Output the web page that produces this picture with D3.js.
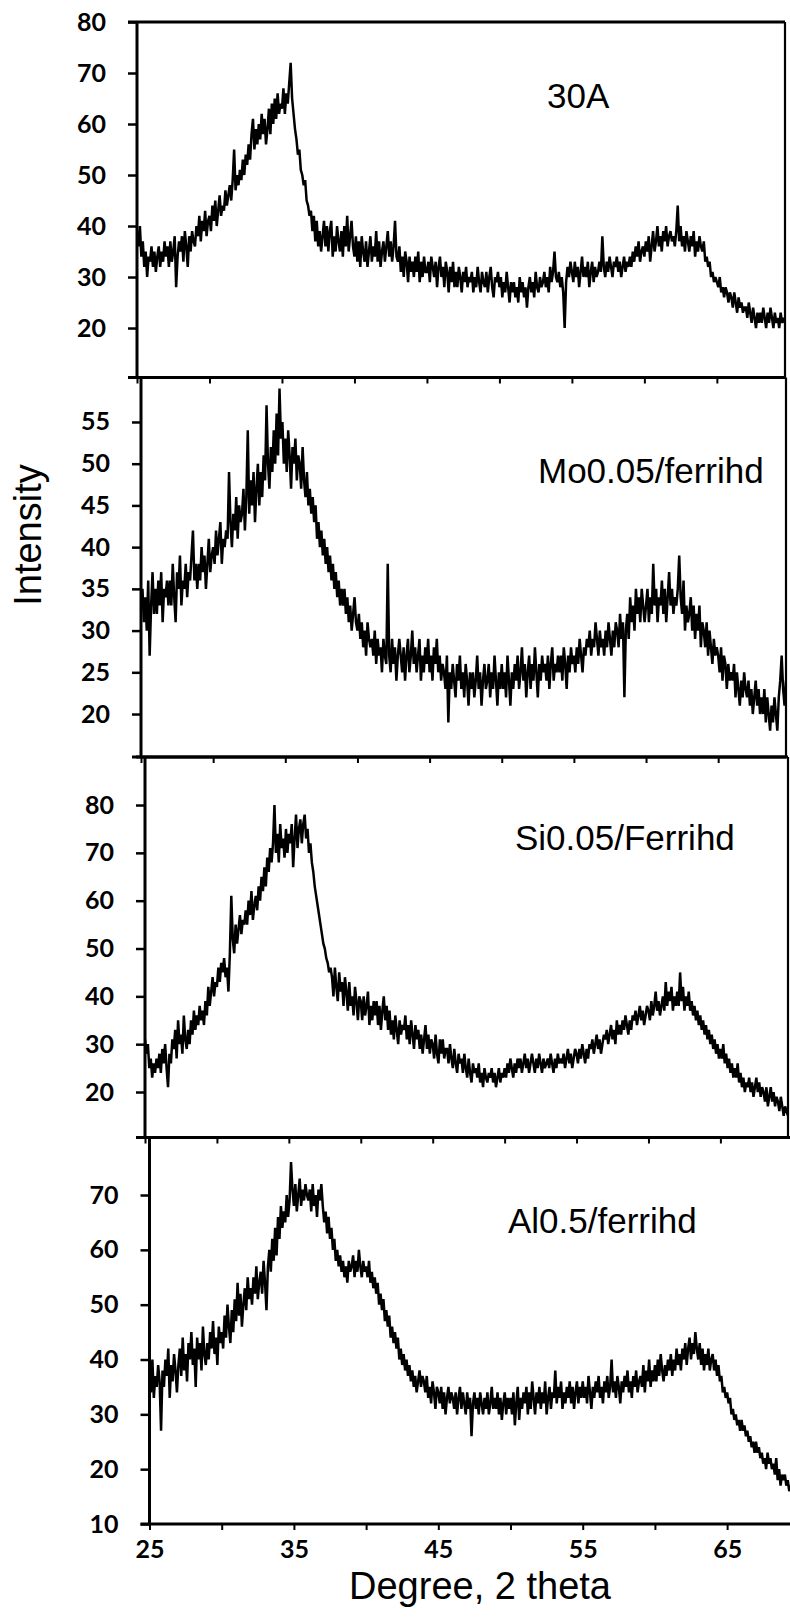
<!DOCTYPE html>
<html><head><meta charset="utf-8">
<script src="https://cdn.jsdelivr.net/npm/d3@7"></script>
<style>html,body{margin:0;padding:0;background:#fff;}svg{display:block;}</style>
</head><body>
<svg id="chart" width="790" height="1622"></svg>
<script>
// ---------- data (2-theta from 25.0 in 0.1 degree steps) ----------
const degStart = 25.0;
const degStep = 0.1;
const panelLabels = ["30A", "Mo0.05/ferrihd", "Si0.05/Ferrihd", "Al0.5/ferrihd"];

const series30A = [
39,36,40,34,37,32,35,30,34,33,
36,32,35,31,34,36,32,35,33,37,
34,36,32,37,33,35,38,28,34,37,
35,38,33,39,36,32,38,35,39,37,
36,40,38,42,37,41,39,43,38,41,
42,39,44,41,45,40,43,46,42,44,
43,47,44,46,48,45,49,55,47,50,
48,51,49,53,50,54,52,56,53,58,
61,55,59,56,60,57,62,58,61,56,
59,63,58,64,60,65,61,66,62,64,
63,67,62,66,64,68,72,65,62,59,
57,54,55,51,50,48,49,45,44,42,
43,39,42,37,41,36,39,35,38,41,
36,40,35,39,41,34,38,35,40,37,
35,39,34,40,36,42,35,38,41,36,
34,38,33,37,32,38,35,33,37,32,
35,38,33,36,34,39,33,37,32,35,
37,33,36,39,34,37,33,36,41,34,
33,36,31,34,30,35,33,29,34,31,
33,30,34,31,35,29,33,30,34,31,
31,33,29,34,32,30,33,28,32,34,
30,32,28,33,31,27,32,29,33,28,
31,28,32,30,27,31,29,32,28,30,
29,31,27,30,28,32,29,27,31,29,
28,31,27,30,32,28,26,30,29,31,
28,30,26,29,27,31,28,25,29,27,
29,26,28,25,30,27,29,26,28,24,
28,30,27,29,26,31,28,27,30,28,
29,31,28,30,27,32,29,31,35,30,
29,31,28,30,27,20,29,32,30,33,
31,29,33,30,32,28,31,34,30,32,
30,33,28,31,33,29,32,30,31,33,
31,38,32,30,33,31,34,32,30,33,
32,34,31,33,30,32,34,31,33,32,
34,32,35,33,36,34,37,33,35,36,
34,37,35,38,33,36,39,35,37,40,
36,38,35,39,37,40,36,38,39,37,
38,36,39,44,37,40,36,38,35,39,
37,35,38,36,39,34,37,35,38,36,
35,37,33,34,32,33,30,31,29,30,
29,28,30,27,28,26,28,27,25,27,
26,24,27,25,23,26,24,25,23,24,
24,22,25,23,21,24,22,20,23,21,
23,21,24,22,20,23,21,24,22,20,
23,21,22,20,23,21,22,21
];

const seriesMo = [
33,35,31,34,30,36,27,33,37,32,
35,32,36,33,37,31,35,34,36,33,
36,33,38,34,31,37,35,39,33,36,
35,38,34,37,36,39,42,36,38,35,
38,36,40,37,39,35,38,41,37,39,
40,38,42,39,41,43,38,41,40,42,
41,49,43,40,44,42,46,41,45,43,
44,47,42,46,54,44,48,45,49,43,
47,50,45,49,46,51,48,57,50,47,
52,49,54,50,56,51,59,53,55,50,
53,49,54,51,47,52,50,53,48,51,
50,47,52,48,46,49,45,47,44,46,
43,45,41,43,40,42,39,41,38,40,
37,39,36,38,35,37,34,36,33,35,
33,35,32,34,31,33,30,32,34,31,
30,32,29,31,28,30,27,31,29,28,
29,27,30,26,29,27,28,25,29,27,
26,38,27,25,29,26,28,24,27,29,
27,25,28,24,27,29,25,27,30,26,
28,25,27,29,24,27,25,28,26,29,
25,27,24,28,26,29,25,27,24,26,
25,23,27,19,25,23,26,24,22,26,
24,27,23,25,22,26,24,21,25,23,
25,22,24,27,23,25,21,24,26,23,
24,26,22,25,23,27,24,21,25,23,
26,23,25,22,27,24,21,25,23,26,
24,27,23,25,28,24,26,22,25,27,
23,26,24,28,25,22,26,24,27,25,
26,24,27,23,26,28,24,26,25,27,
25,27,24,28,26,23,27,25,28,26,
27,25,28,26,29,27,25,28,27,29,
28,30,27,29,28,31,29,27,30,28,
29,27,30,28,31,29,27,30,28,31,
30,28,32,29,31,22,30,32,29,34,
31,33,30,35,32,34,31,35,33,31,
33,35,31,34,32,38,33,35,31,34,
33,36,32,35,31,34,37,33,35,32,
34,33,35,39,34,32,36,30,33,31,
32,34,30,33,29,32,30,33,28,31,
30,28,31,27,30,28,26,29,27,28,
27,25,28,24,27,26,23,26,24,25,
24,26,22,25,23,21,24,22,25,23,
22,24,21,23,20,22,24,21,23,20,
22,20,23,19,22,20,18,21,19,22,
20,18,22,24,27,23,21,24
];

const seriesSi = [
31,28,30,25,27,23,26,24,27,25,
28,24,29,26,30,25,21,28,26,31,
29,33,27,35,30,32,28,36,31,29,
33,30,35,32,37,33,36,34,38,35,
37,34,39,36,42,38,41,44,40,43,
42,46,43,47,45,48,44,46,41,49,
61,52,49,55,51,54,57,53,56,55,
58,55,60,57,62,56,59,61,58,63,
60,65,62,67,63,69,66,71,68,72,
80,70,74,68,76,71,73,69,75,70,
74,72,76,67,73,78,71,75,77,72,
76,78,73,75,70,72,68,66,63,61,
59,57,55,53,51,50,48,47,45,46,
44,40,46,42,39,45,41,43,38,44,
41,37,43,38,40,36,42,39,35,40,
39,35,40,36,38,41,34,38,35,39,
36,39,34,38,33,37,40,35,38,33,
37,32,35,31,36,33,30,35,32,34,
33,36,31,34,30,35,32,29,34,31,
33,29,32,28,31,34,29,32,28,31,
30,27,32,28,26,31,28,31,27,29,
29,26,30,27,25,29,26,24,28,26,
27,24,28,25,23,27,24,22,26,24,
25,23,26,22,24,21,25,23,22,24,
23,25,22,24,21,23,25,22,24,23,
25,23,26,24,27,25,23,26,24,27,
25,27,24,26,28,25,27,24,26,28,
26,24,27,25,28,26,24,27,25,26,
27,25,28,26,24,27,25,28,26,27,
26,28,25,27,29,26,28,25,27,29,
28,26,29,27,30,28,26,29,27,30,
29,31,28,30,32,29,31,28,30,32,
31,33,30,32,34,31,33,30,35,32,
34,32,35,33,36,34,32,35,33,36,
35,37,34,36,38,35,37,34,36,38,
37,35,39,36,38,41,37,39,36,38,
40,37,43,38,41,39,42,37,40,38,
41,38,45,39,42,37,40,38,41,37,
39,36,38,35,37,34,36,33,35,32,
34,31,33,30,32,29,31,28,30,27,
29,27,30,26,28,25,27,24,26,23,
25,23,26,22,24,21,23,20,22,21,
23,20,22,19,21,23,20,22,19,21,
20,18,21,17,19,21,18,20,17,19,
18,16,19,17,15,17,16,15
];

const seriesAl = [
38,34,40,33,37,35,39,36,27,38,
35,40,37,42,33,39,36,41,38,34,
39,42,37,44,38,41,36,43,40,45,
39,42,35,44,40,43,38,46,41,39,
43,40,45,42,47,41,44,39,46,43,
45,42,48,44,50,46,43,49,45,51,
47,54,48,52,46,50,53,49,55,51,
53,50,55,52,57,51,54,56,52,58,
54,49,57,60,56,62,58,64,59,66,
62,68,64,67,65,70,66,69,76,71,
68,72,67,70,73,68,71,69,72,70,
69,71,67,72,68,70,66,71,69,72,
68,65,67,63,66,62,64,60,62,58,
60,57,59,56,58,55,57,54,58,56,
57,59,55,58,56,60,57,55,58,56,
57,55,58,54,56,53,55,52,54,50,
52,49,51,47,49,46,48,44,46,43,
45,42,44,40,42,39,41,38,40,37,
39,36,38,35,37,34,36,38,35,37,
36,34,37,33,35,32,36,34,31,35,
34,32,35,31,34,30,33,35,32,34,
33,31,34,30,33,35,31,34,32,30,
34,31,33,26,32,34,31,33,30,34,
32,30,33,31,34,30,32,35,31,33,
31,34,30,33,29,32,34,30,33,31,
33,30,34,28,32,35,29,33,31,34,
32,35,30,34,31,36,33,30,34,32,
35,31,34,32,36,30,33,35,31,34,
33,38,32,35,33,36,31,34,32,35,
33,36,32,35,31,34,36,32,35,33,
36,33,35,32,37,34,31,35,33,36,
34,37,33,35,32,36,34,37,33,35,
40,34,36,33,37,35,32,36,34,37,
35,38,34,36,33,37,35,38,34,36,
37,35,39,34,38,36,40,35,38,36,
39,36,40,37,41,38,36,39,37,40,
38,41,37,40,38,42,39,41,38,42,
40,43,39,42,44,40,43,41,45,42,
40,43,39,42,38,41,39,42,38,40,
41,38,40,37,39,36,37,34,35,33,
34,32,33,30,31,29,30,28,29,27,
29,27,28,26,27,25,26,24,25,23,
25,23,24,22,23,21,22,20,23,21,
22,20,21,19,22,18,20,17,19,18,
19,17,18,16,17,15,16,15
];

const allSeries = [series30A, seriesMo, seriesSi, seriesAl];

// tick values
const xTickValues = [25, 30, 35, 40, 45, 50, 55, 60, 65];
const xTickLabels = ["25", "", "35", "", "45", "", "55", "", "65"];
const yTicks30A = [20, 30, 40, 50, 60, 70, 80];
const yTicksMo = [20, 25, 30, 35, 40, 45, 50, 55];
const yTicksSi = [20, 30, 40, 50, 60, 70, 80];
const yTicksAl = [10, 20, 30, 40, 50, 60, 70];
const allYTicks = [yTicks30A, yTicksMo, yTicksSi, yTicksAl];
const xDomain = [25, 69.7];
const yDomains = [[10.3, 80], [14.85, 60.33], [10.49, 90.04], [10, 80.49]];

// ---------- layout ----------
const layout = [
  {left: 137,   right: 785, top: 22,     bottom: 377.5,  labelX: 547, labelY: 108},
  {left: 141,   right: 786, top: 377.5,  bottom: 757,    labelX: 538, labelY: 483},
  {left: 145,   right: 788, top: 757,    bottom: 1137.5, labelX: 515, labelY: 850},
  {left: 149.5, right: 795, top: 1137.5, bottom: 1524,   labelX: 508, labelY: 1233}
];

const svg = d3.select("#chart");
svg.append("rect").attr("width", 790).attr("height", 1622).attr("fill", "#fff");

const tickFont = "Lato, 'DejaVu Sans', sans-serif";
const textFont = "'Liberation Sans', Arial, Helvetica, sans-serif";

layout.forEach((L, i) => {
  const x = d3.scaleLinear().domain(xDomain).range([L.left, L.right]);
  const y = d3.scaleLinear().domain(yDomains[i]).range([L.bottom, L.top]);
  const g = svg.append("g");

  const clipId = "clip" + i;
  svg.append("clipPath").attr("id", clipId).append("rect")
    .attr("x", L.left).attr("y", L.top).attr("width", L.right - L.left).attr("height", L.bottom - L.top);

  const data = allSeries[i].map((v, k) => ({d: degStart + k * degStep, v}));
  const line = d3.line().x(p => x(p.d)).y(p => y(p.v));
  g.append("path").datum(data)
    .attr("clip-path", `url(#${clipId})`)
    .attr("d", line)
    .attr("fill", "none").attr("stroke", "#000").attr("stroke-width", 2.5)
    .attr("stroke-linejoin", "miter").attr("stroke-miterlimit", 2);

  // y axis
  const yAxis = d3.axisLeft(y).tickValues(allYTicks[i]).tickSize(9).tickPadding(22).tickFormat(d3.format("d"));
  const ya = g.append("g").attr("transform", `translate(${L.left},0)`).call(yAxis);
  ya.select(".domain").remove();
  ya.selectAll(".tick line").attr("stroke", "#000").attr("stroke-width", 2.5);
  ya.selectAll(".tick text").attr("font-family", tickFont).attr("font-size", 25)
    .attr("font-weight", 700).attr("fill", "#000");

  // x axis ticks at panel bottom
  const xAxis = d3.axisBottom(x).tickValues(xTickValues).tickSize(6).tickPadding(10)
    .tickFormat((d, k) => i === 3 ? xTickLabels[k] : "");
  const xa = g.append("g").attr("transform", `translate(0,${L.bottom})`).call(xAxis);
  xa.select(".domain").remove();
  xa.selectAll(".tick line").attr("stroke", "#000").attr("stroke-width", 2);
  xa.selectAll(".tick text").attr("font-family", tickFont).attr("font-size", 25)
    .attr("font-weight", 700).attr("fill", "#000");

  // frame
  const fr = g.append("g").attr("stroke", "#000").attr("fill", "none");
  fr.append("line").attr("x1", L.left - 9).attr("x2", L.right).attr("y1", L.top).attr("y2", L.top).attr("stroke-width", 2.8);
  fr.append("line").attr("x1", L.left).attr("x2", L.left).attr("y1", L.top).attr("y2", L.bottom).attr("stroke-width", 3);
  fr.append("line").attr("x1", L.right).attr("x2", L.right).attr("y1", L.top).attr("y2", L.bottom).attr("stroke-width", 2.2);
  fr.append("line").attr("x1", L.left - 9).attr("x2", L.right).attr("y1", L.bottom).attr("y2", L.bottom).attr("stroke-width", 2.8);

  // panel label
  g.append("text").attr("x", L.labelX).attr("y", L.labelY)
    .attr("font-family", textFont).attr("font-size", 35).attr("fill", "#000")
    .text(panelLabels[i]);
});

// axis titles
svg.append("text").attr("x", 480).attr("y", 1599).attr("text-anchor", "middle")
  .attr("font-family", textFont).attr("font-size", 38).attr("fill", "#000")
  .text("Degree, 2 theta");
svg.append("text").attr("transform", "translate(41,535) rotate(-90)").attr("text-anchor", "middle")
  .attr("font-family", textFont).attr("font-size", 38).attr("fill", "#000")
  .text("Intensity");
</script>
</body></html>
